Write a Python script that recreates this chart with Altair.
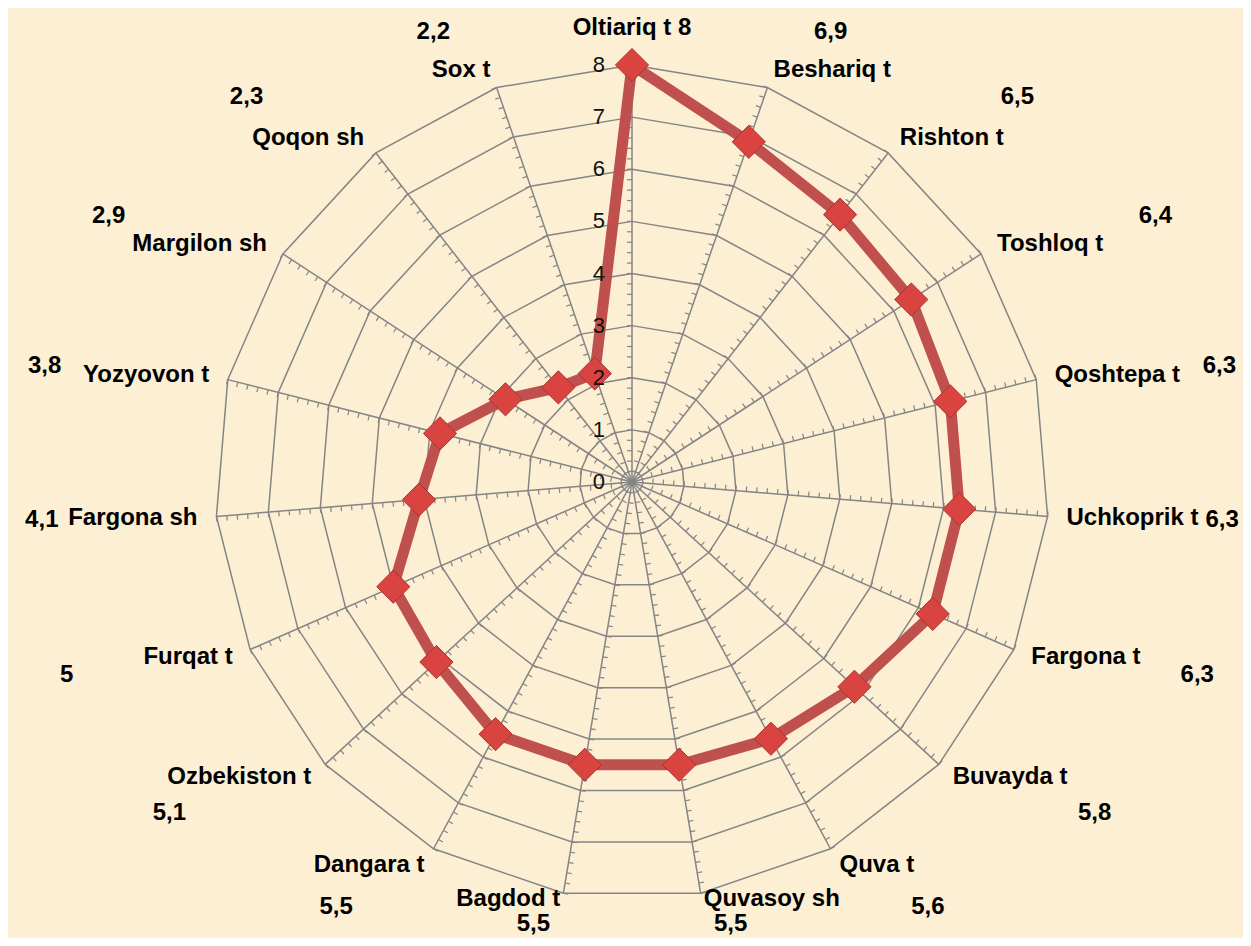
import altair as alt
import pandas as pd

# ---------------- data ----------------
categories = ["Oltiariq t", "Beshariq t", "Rishton t", "Toshloq t", "Qoshtepa t",
              "Uchkoprik t", "Fargona t", "Buvayda t", "Quva t", "Quvasoy sh",
              "Bagdod t", "Dangara t", "Ozbekiston t", "Furqat t", "Fargona sh",
              "Yozyovon t", "Margilon sh", "Qoqon sh", "Sox t"]
values = [8, 6.9, 6.5, 6.4, 6.3, 6.3, 6.3, 5.8, 5.6, 5.5, 5.5, 5.5, 5.1, 5.0,
          4.1, 3.8, 2.9, 2.3, 2.2]
value_labels = ["8", "6,9", "6,5", "6,4", "6,3", "6,3", "6,3", "5,8", "5,6", "5,5",
                "5,5", "5,5", "5,1", "5", "4,1", "3,8", "2,9", "2,3", "2,2"]
ring_levels = [1, 2, 3, 4, 5, 6, 7, 8]
axis_values = [0, 1, 2, 3, 4, 5, 6, 7, 8]
axis_labels = ["0", "1", "2", "3", "4", "5", "6", "7", "8"]
minor_step = 0.2

# ---------------- layout ----------------
N = len(categories)
R_MAX = 8
PX = 417 / 8.0          # pixels per unit
W, H = 1235, 930
CX, CY = 624, 474       # centre inside plot area
TICK_LEN = 5 / PX
CAT_R = R_MAX + 19 / PX
BOTTOM_LIFT = 13 / PX
VAL_A = 585 / PX
VAL_B = 455 / PX
VAL_YMIN = -(H - CY - 14) / PX

FONT = "Liberation Sans"
GRID = "#858585"
RED_LINE = "#C0504D"
LABEL_SIZE = 24

xs = alt.Scale(domain=[-CX / PX, (W - CX) / PX], nice=False, zero=False)
ys = alt.Scale(domain=[-(H - CY) / PX, CY / PX], nice=False, zero=False)

ANG = f"datum.i * 2 * PI / {N}"

# ---------------- tables ----------------
pts = pd.DataFrame({"i": list(range(N)), "category": categories,
                    "value": values, "label": value_labels})
line_df = pd.DataFrame({"k": list(range(N + 1)),
                        "i": [j % N for j in range(N + 1)],
                        "value": [values[j % N] for j in range(N + 1)]})
ring_df = pd.DataFrame([{"ring": r, "k": k, "i": k % N}
                        for r in ring_levels for k in range(N + 1)])
n_minor = int(round(R_MAX / minor_step))
tick_df = pd.DataFrame([{"i": i, "v": round(m * minor_step, 3)}
                        for i in range(N) for m in range(1, n_minor + 1)])
axis_df = pd.DataFrame({"v": axis_values, "t": axis_labels})

# ---------------- layers ----------------
rings = alt.Chart(ring_df).transform_calculate(
    a=ANG
).transform_calculate(
    px="datum.ring * sin(datum.a)", py="datum.ring * cos(datum.a)"
).mark_line(color=GRID, strokeWidth=1.5).encode(
    x=alt.X("px:Q", scale=xs, axis=None),
    y=alt.Y("py:Q", scale=ys, axis=None),
    detail="ring:N",
    order="k:Q",
)

spokes = alt.Chart(pts).transform_calculate(
    a=ANG
).transform_calculate(
    x0="0", y0="0",
    x1=f"{R_MAX} * sin(datum.a)", y1=f"{R_MAX} * cos(datum.a)"
).mark_rule(color=GRID, strokeWidth=1.5).encode(
    x=alt.X("x0:Q", scale=xs, axis=None),
    y=alt.Y("y0:Q", scale=ys, axis=None),
    x2="x1:Q", y2="y1:Q",
)

ticks = alt.Chart(tick_df).transform_calculate(
    a=ANG
).transform_calculate(
    x0="datum.v * sin(datum.a)", y0="datum.v * cos(datum.a)"
).transform_calculate(
    x1=f"datum.x0 - {TICK_LEN} * cos(datum.a)",
    y1=f"datum.y0 + {TICK_LEN} * sin(datum.a)",
).mark_rule(color=GRID, strokeWidth=1.2).encode(
    x=alt.X("x0:Q", scale=xs, axis=None),
    y=alt.Y("y0:Q", scale=ys, axis=None),
    x2="x1:Q", y2="y1:Q",
)

series_line = alt.Chart(line_df).transform_calculate(
    a=ANG
).transform_calculate(
    px="datum.value * sin(datum.a)", py="datum.value * cos(datum.a)"
).mark_line(color=RED_LINE, strokeWidth=11, strokeJoin="miter").encode(
    x=alt.X("px:Q", scale=xs, axis=None),
    y=alt.Y("py:Q", scale=ys, axis=None),
    order="k:Q",
)

markers = alt.Chart(pts).transform_calculate(
    a=ANG
).transform_calculate(
    px="datum.value * sin(datum.a)", py="datum.value * cos(datum.a)"
).mark_point(shape="diamond", filled=True, size=1100, fill="#D94441",
             stroke="#A83330", strokeWidth=1, opacity=1).encode(
    x=alt.X("px:Q", scale=xs, axis=None),
    y=alt.Y("py:Q", scale=ys, axis=None),
)

axis_text = alt.Chart(axis_df).transform_calculate(
    px="0", py="datum.v"
).mark_text(font=FONT, fontSize=22, color="#111111", align="right",
            baseline="middle", dx=-27).encode(
    x=alt.X("px:Q", scale=xs, axis=None),
    y=alt.Y("py:Q", scale=ys, axis=None),
    text="t:N",
)

cat_base = alt.Chart(pts).transform_calculate(
    a=ANG
).transform_calculate(
    lx=f"{CAT_R} * sin(datum.a)",
    ly=f"{CAT_R} * cos(datum.a) + (cos(datum.a) < -0.95 ? {BOTTOM_LIFT} : 0)",
    s="sin(datum.a)",
    full="datum.category + ' ' + datum.label",
)


def cat_layer(cond, align, field, baseline="middle", dy=0):
    return cat_base.transform_filter(cond).mark_text(
        font=FONT, fontSize=LABEL_SIZE, fontWeight="bold", color="#000000",
        align=align, baseline=baseline, dy=dy
    ).encode(
        x=alt.X("lx:Q", scale=xs, axis=None),
        y=alt.Y("ly:Q", scale=ys, axis=None),
        text=f"{field}:N",
    )


cat_right = cat_layer("datum.s > 0.05", "left", "category")
cat_left = cat_layer("datum.s < -0.05", "right", "category")
# the top category carries its value on the same line
cat_top = cat_layer("abs(datum.s) <= 0.05", "center", "full", "bottom", -6)

val_text = alt.Chart(pts).transform_calculate(
    a=ANG
).transform_filter(
    "abs(sin(datum.a)) > 0.05"
).transform_calculate(
    f="1 + 0.15 * abs(sin(datum.a) * cos(datum.a))"
).transform_calculate(
    vx=f"{VAL_A} * sin(datum.a) * datum.f",
    vy=f"max({VAL_B} * cos(datum.a) * datum.f, {VAL_YMIN})",
).mark_text(font=FONT, fontSize=LABEL_SIZE, fontWeight="bold", color="#000000",
            align="center", baseline="middle").encode(
    x=alt.X("vx:Q", scale=xs, axis=None),
    y=alt.Y("vy:Q", scale=ys, axis=None),
    text="label:N",
)

chart = alt.layer(
    rings, spokes, ticks, series_line, markers, axis_text,
    cat_right, cat_left, cat_top, val_text
).properties(
    width=W, height=H, background="#FCEFD4", padding=0,
    autosize=alt.AutoSizeParams(type="none"),
).configure_view(stroke=None)

chart.save("out.html", embed_options={"renderer": "svg", "actions": False})
